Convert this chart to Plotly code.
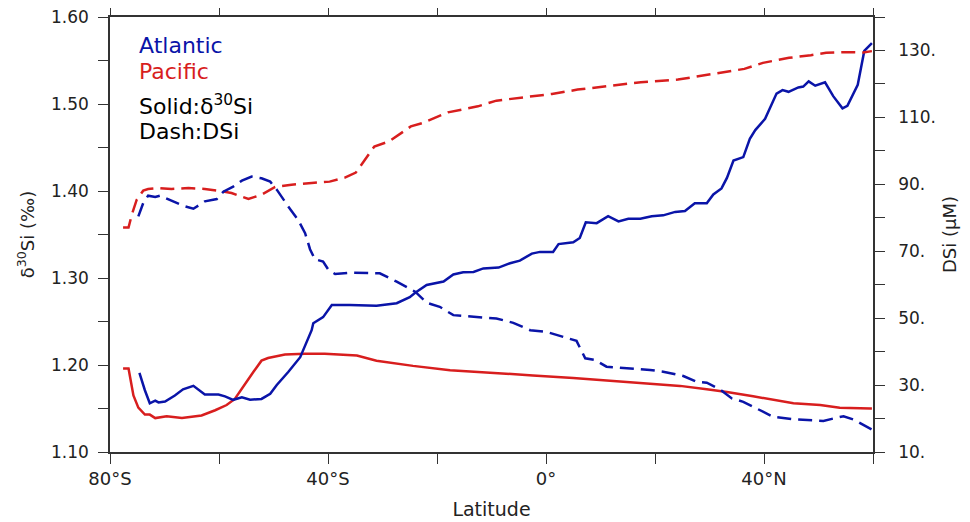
import plotly.graph_objects as go

# ---- data ----
pac_si_lat = [-77.6, -76.6, -75.7, -74.8, -73.6, -72.7, -71.7, -69.6, -66.8, -63.2, -60.7, -58.6,
              -57.1, -55.2, -53.7, -52.2, -51.0, -47.9, -44.2, -40.6, -36.9, -34.7, -31.1, -24.4,
              -17.6, -10.9, -2.4, 5.0, 11.1, 17.3, 24.6, 29.5, 33.2, 38.0, 45.4, 50.3, 53.9, 59.5, 59.8]
pac_si_val = [1.196, 1.196, 1.165, 1.151, 1.143, 1.143, 1.139, 1.141, 1.139, 1.142, 1.148, 1.154,
              1.161, 1.179, 1.192, 1.205, 1.208, 1.212, 1.213, 1.213, 1.212, 1.211, 1.205, 1.199,
              1.194, 1.191, 1.188, 1.185, 1.182, 1.179, 1.176, 1.172, 1.169, 1.164, 1.156, 1.154,
              1.151, 1.150, 1.150]

pac_dsi_lat = [-77.6, -76.6, -76.0, -75.1, -73.9, -73.0, -71.1, -68.7, -65.6, -62.6, -60.1, -57.7,
               -54.6, -52.2, -49.7, -46.7, -43.0, -39.7, -36.9, -34.9, -31.5, -28.8, -24.8, -22.7,
               -18.0, -12.5, -9.1, -4.4, 1.1, 5.8, 11.3, 17.4, 24.2, 26.2, 32.3, 36.4, 39.8, 44.6,
               48.6, 51.4, 55.4, 58.2, 59.8]
pac_dsi_val = [77.1, 77.1, 80.9, 85.4, 88.1, 88.6, 88.9, 88.6, 88.9, 88.6, 88.1, 87.4,
               85.6, 86.9, 89.2, 89.9, 90.4, 90.8, 92.0, 93.5, 101.3, 102.8, 107.3, 108.3,
               111.5, 113.3, 115.0, 116.0, 117.0, 118.3, 119.3, 120.5, 121.3, 121.8, 123.5, 124.5,
               126.3, 127.8, 128.6, 129.3, 129.5, 129.4, 129.8]

atl_si_lat = [-74.6, -73.6, -72.7, -71.7, -71.1, -69.9, -68.1, -66.6, -64.7, -62.6, -60.1, -58.9,
              -57.4, -55.8, -54.3, -52.2, -50.6, -49.4, -47.3, -45.1, -43.0, -42.7, -40.9, -39.3,
              -36.0, -31.1, -27.4, -25.0, -24.0, -21.9, -18.8, -17.0, -15.2, -13.3, -11.5, -8.7,
              -6.6, -4.8, -2.6, -1.1, 1.3, 2.3, 5.0, 6.2, 7.3, 9.3, 11.4, 13.3, 15.1, 17.3, 19.4,
              21.5, 23.7, 25.5, 27.3, 29.5, 30.7, 32.2, 33.2, 34.4, 36.2, 37.4, 38.4, 40.2, 42.3,
              43.4, 44.5, 46.3, 47.2, 48.2, 49.4, 51.2, 52.7, 54.4, 55.3, 57.2, 58.4, 59.8]
atl_si_val = [1.191, 1.171, 1.156, 1.159, 1.157, 1.158, 1.165, 1.172, 1.176, 1.166, 1.166, 1.164,
              1.160, 1.163, 1.160, 1.161, 1.167, 1.177, 1.192, 1.209, 1.240, 1.248, 1.255, 1.269,
              1.269, 1.268, 1.271, 1.278, 1.283, 1.292, 1.296, 1.304, 1.3065, 1.307, 1.311, 1.312,
              1.317, 1.320, 1.328, 1.330, 1.330, 1.339, 1.341, 1.346, 1.364, 1.363, 1.371, 1.365,
              1.368, 1.368, 1.371, 1.372, 1.376, 1.377, 1.386, 1.386, 1.396, 1.403, 1.415, 1.435,
              1.439, 1.460, 1.470, 1.483, 1.512, 1.516, 1.514, 1.519, 1.520, 1.526, 1.521, 1.525,
              1.509, 1.495, 1.498, 1.522, 1.561, 1.570]

atl_dsi_lat = [-74.8, -73.9, -73.0, -71.7, -70.8, -68.7, -66.6, -64.7, -62.6, -60.4, -59.2, -57.4,
               -55.8, -54.0, -52.2, -50.6, -49.4, -47.3, -45.5, -44.2, -43.3, -42.4, -40.9, -39.9,
               -38.7, -36.0, -30.5, -27.4, -24.0, -21.9, -19.5, -17.0, -13.4, -9.1, -6.0, -2.9,
               0.1, 2.0, 5.6, 7.2, 9.0, 11.1, 13.6, 16.6, 19.1, 21.5, 25.2, 27.6, 29.5, 31.9, 34.1,
               36.2, 38.7, 41.7, 45.4, 48.4, 50.9, 52.7, 54.6, 56.4, 58.2, 59.8]
atl_dsi_val = [80.4, 84.4, 86.6, 86.2, 86.6, 85.2, 83.6, 82.7, 84.9, 85.6, 87.8, 89.3,
               91.1, 92.3, 91.8, 90.8, 88.4, 83.4, 79.4, 75.4, 70.6, 67.6, 66.9, 64.4,
               63.2, 63.6, 63.4, 60.9, 57.9, 54.6, 53.4, 50.9, 50.4, 49.9, 48.6, 46.4,
               45.9, 44.9, 43.2, 38.0, 37.5, 35.5, 35.2, 34.7, 34.5, 34.0, 32.7, 31.0, 30.7, 28.7,
               26.0, 25.0, 23.0, 20.5, 19.8, 19.5, 19.3, 20.0, 20.7, 19.7, 18.0, 16.7]

lat_ticks = [-80, -40, 0, 40]
lat_labels = ["80°S", "40°S", "0°", "40°N"]
lat_all_ticks = [-80, -60, -40, -20, 0, 20, 40, 60]
si_ticks = [1.10, 1.20, 1.30, 1.40, 1.50, 1.60]
si_labels = ["1.10", "1.20", "1.30", "1.40", "1.50", "1.60"]
dsi_ticks = [10, 30, 50, 70, 90, 110, 130]
dsi_labels = ["10.", "30.", "50.", "70.", "90.", "110.", "130."]

BLUE = "#0a14a8"
RED = "#d81e1e"
FONT = "DejaVu Sans"
AXC = "#333333"
TL = 10

fig = go.Figure()
fig.add_trace(go.Scatter(x=pac_si_lat, y=pac_si_val, mode="lines",
                         line=dict(color=RED, width=2.5), yaxis="y"))
fig.add_trace(go.Scatter(x=atl_si_lat, y=atl_si_val, mode="lines",
                         line=dict(color=BLUE, width=2.5), yaxis="y"))
fig.add_trace(go.Scatter(x=pac_dsi_lat, y=pac_dsi_val, mode="lines",
                         line=dict(color=RED, width=2.5, dash="14px,7px"), yaxis="y2"))
fig.add_trace(go.Scatter(x=atl_dsi_lat, y=atl_dsi_val, mode="lines",
                         line=dict(color=BLUE, width=2.5, dash="14px,7px"), yaxis="y2"))
# invisible trace to anchor the top axis
fig.add_trace(go.Scatter(x=[-80, 60], y=[1.1, 1.1], mode="lines", xaxis="x2", yaxis="y",
                         line=dict(width=0), hoverinfo="skip", opacity=0))

legend_items = [("Atlantic", BLUE, 0.934), ("Pacific", RED, 0.874),
                ("Solid:δ<sup>30</sup>Si", "black", 0.797), ("Dash:DSi", "black", 0.737)]
for txt, col, yy in legend_items:
    fig.add_annotation(x=0.035, y=yy, xref="paper", yref="paper", text=txt, showarrow=False,
                       xanchor="left", yanchor="middle", font=dict(family=FONT, size=22, color=col))

minor_common = dict(ticks="outside", ticklen=TL, tickwidth=1.3, tickcolor=AXC)

fig.update_layout(
    width=962, height=514,
    margin=dict(l=102, r=97, t=9, b=70),
    paper_bgcolor="white", plot_bgcolor="white",
    showlegend=False,
    font=dict(family=FONT, color="#222222"),
    xaxis=dict(range=[-80, 60], tickvals=lat_ticks, ticktext=lat_labels,
               ticks="outside", ticklen=TL, tickwidth=1.3, tickcolor=AXC,
               minor=dict(tick0=-80, dtick=20, **minor_common),
               showline=True, linecolor=AXC, linewidth=1.5, automargin=False,
               ticklabeloverflow="allow",
               showgrid=False, zeroline=False, tickfont=dict(size=18),
               title=dict(text="Latitude", font=dict(size=19), standoff=14)),
    xaxis2=dict(range=[-80, 60], tickvals=lat_all_ticks, showticklabels=False,
                overlaying="x", side="top", anchor="y",
                ticks="outside", ticklen=TL, tickwidth=1.3, tickcolor=AXC,
                showline=True, linecolor=AXC, linewidth=1.5, automargin=False,
                showgrid=False, zeroline=False),
    yaxis=dict(range=[1.10, 1.60], tickvals=si_ticks, ticktext=si_labels,
               ticks="outside", ticklen=TL, tickwidth=1.3, tickcolor=AXC,
               minor=dict(tick0=1.10, dtick=0.05, **minor_common),
               ticklabelstandoff=6, ticklabeloverflow="allow",
               showline=True, linecolor=AXC, linewidth=1.5, automargin=False,
               showgrid=False, zeroline=False, tickfont=dict(size=17),
               title=dict(text="δ<sup>30</sup>Si (‰)", font=dict(size=18), standoff=12)),
    yaxis2=dict(range=[10, 140], tickvals=dsi_ticks, ticktext=dsi_labels,
                overlaying="y", side="right",
                ticks="outside", ticklen=TL, tickwidth=1.3, tickcolor=AXC,
                minor=dict(tick0=10, dtick=10, **minor_common),
                ticklabelstandoff=10, ticklabeloverflow="allow",
                showline=True, linecolor=AXC, linewidth=1.5, automargin=False,
                showgrid=False, zeroline=False, tickfont=dict(size=17),
                title=dict(text="DSi (μM)", font=dict(size=18), standoff=8)),
)

fig.write_html("out.html")
